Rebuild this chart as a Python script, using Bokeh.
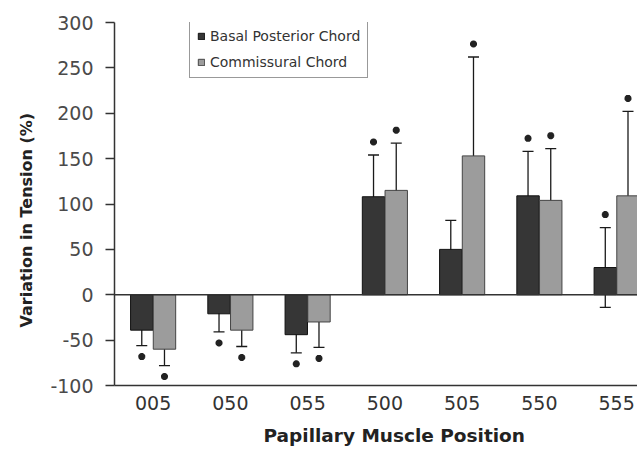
from bokeh.plotting import figure
from bokeh.models import (ColumnDataSource, Range1d, FixedTicker, Whisker, TeeHead,
                          Span, Title, Legend, LegendItem)
from bokeh.embed import file_html
from bokeh.resources import INLINE

# ---- data ----
positions = ["005", "050", "055", "500", "505", "550", "555"]
basal_mean = [-39, -21, -44, 108, 50, 109, 30]
basal_sd = [17, 20, 20, 46, 32, 49, 44]
basal_sig = [True, True, True, True, False, True, True]
comm_mean = [-60, -39, -30, 115, 153, 104, 109]
comm_sd = [18, 18, 28, 52, 109, 57, 93]
comm_sig = [True, True, True, True, True, True, True]
y_ticks = [-100, -50, 0, 50, 100, 150, 200, 250, 300]

DARK = "#363636"
LIGHT = "#9c9c9c"
BAR_W = 0.29
OFF = 0.147
Y_LO, Y_HI = -100, 300
FRAME_H = 363
PX = FRAME_H / (Y_HI - Y_LO)  # pixels per unit

p = figure(width=637, height=456, output_backend="svg", toolbar_location=None,
           x_range=Range1d(0, 6.77), y_range=Range1d(Y_LO, Y_HI),
           min_border_left=114, min_border_right=0, min_border_top=22,
           min_border_bottom=71)
p.outline_line_color = None
p.xgrid.visible = False
p.ygrid.visible = False

centers = [i + 0.5 for i in range(len(positions))]


def series(means, sds, sig, shift, fill, line):
    xs = [c + shift for c in centers]
    src = ColumnDataSource(dict(x=xs, top=means,
                                upper=[m + s for m, s in zip(means, sds)],
                                lower=[m - s for m, s in zip(means, sds)]))
    r = p.vbar(x="x", top="top", bottom=0, width=BAR_W, source=src,
               fill_color=fill, line_color=line, line_width=1)
    w = Whisker(base="x", upper="upper", lower="lower", source=src,
                line_color="#1a1a1a", line_width=1.3,
                upper_head=TeeHead(size=11, line_color="#1a1a1a", line_width=1.3),
                lower_head=TeeHead(size=11, line_color="#1a1a1a", line_width=1.3))
    p.add_layout(w)
    sx, sy = [], []
    for x, m, s, g in zip(xs, means, sds, sig):
        if not g:
            continue
        sx.append(x)
        sy.append(m + s + 13 / PX if m >= 0 else m - s - 11 / PX)
    p.scatter(x=sx, y=sy, marker="asterisk", size=7, line_width=2.4,
              line_color="#222222")
    return r


r1 = series(basal_mean, basal_sd, basal_sig, -OFF, DARK, "#111111")
r2 = series(comm_mean, comm_sd, comm_sig, OFF, LIGHT, "#444444")

p.add_layout(Span(location=0, dimension="width", line_color="#333333", line_width=1.5))

# axes
xa = p.xaxis[0]
xa.ticker = FixedTicker(ticks=centers)
xa.major_label_overrides = {c: lab for c, lab in zip(centers, positions)}
xa.major_tick_out = 0
xa.major_tick_in = 0
xa.minor_tick_line_color = None
xa.axis_line_color = "#333333"
xa.axis_line_width = 1.5
xa.major_label_standoff = 10
xa.major_label_text_font = "DejaVu Sans"
xa.major_label_text_font_size = "19px"
xa.major_label_text_color = "#333333"

ya = p.yaxis[0]
ya.ticker = FixedTicker(ticks=y_ticks)
ya.major_label_overrides = {t: str(t) for t in y_ticks}
ya.major_tick_out = 9
ya.major_tick_in = 0
ya.minor_tick_line_color = None
ya.axis_line_color = "#333333"
ya.major_tick_line_color = "#333333"
ya.axis_line_width = 1.5
ya.major_tick_line_width = 1.5
ya.major_label_standoff = 12
ya.major_label_text_font = "DejaVu Sans"
ya.major_label_text_font_size = "19px"
ya.major_label_text_color = "#4a4a4a"

# axis titles
p.add_layout(Title(text="Papillary Muscle Position", align="left", offset=149,
                   text_font="DejaVu Sans", text_font_style="bold",
                   text_font_size="18.5px", text_color="#222222",
                   standoff=20), "below")
p.add_layout(Title(text="Variation in Tension (%)", align="left", offset=58,
                   text_font="DejaVu Sans", text_font_style="bold",
                   text_font_size="16px", text_color="#222222",
                   standoff=23), "left")

legend = Legend(items=[LegendItem(label="Basal Posterior Chord", renderers=[r1]),
                       LegendItem(label="Commissural Chord", renderers=[r2])],
                location=(75, 307), orientation="vertical",
                glyph_width=8, glyph_height=8, label_height=16, spacing=10,
                padding=7, margin=0, label_standoff=5,
                label_text_font="DejaVu Sans", label_text_font_size="14px",
                label_text_color="#333333",
                border_line_color="#333333", border_line_width=1.5,
                background_fill_color="white", background_fill_alpha=1)
p.add_layout(legend)

open("out.html", "w").write(file_html(p, INLINE))
